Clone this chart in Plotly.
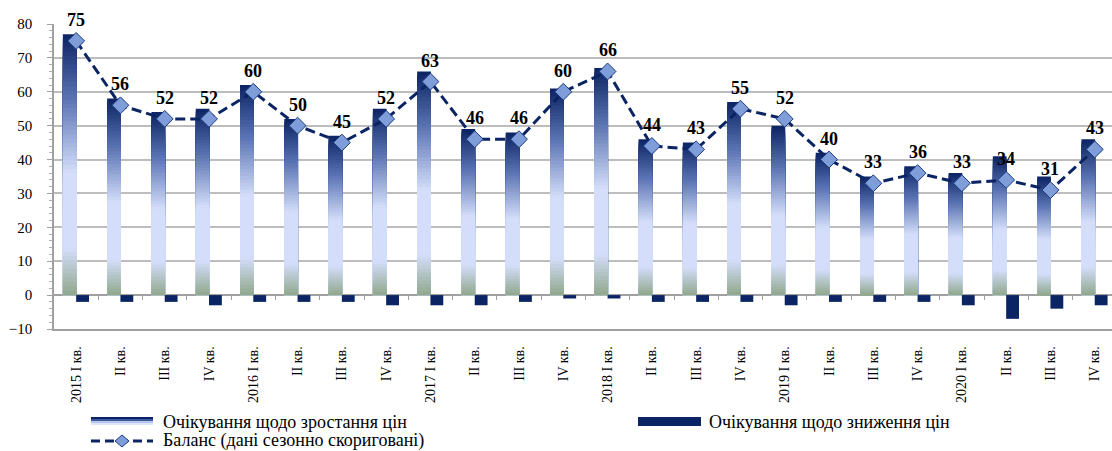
import plotly.graph_objects as go

# ---------------- data ----------------
quarters = ["2015 I кв.", "II кв.", "III кв.", "IV кв.",
            "2016 I кв.", "II кв.", "III кв.", "IV кв.",
            "2017 I кв.", "II кв.", "III кв.", "IV кв.",
            "2018 I кв.", "II кв.", "III кв.", "IV кв.",
            "2019 I кв.", "II кв.", "III кв.", "IV кв.",
            "2020 I кв.", "II кв.", "III кв.", "IV кв."]
rise = [77, 58, 54, 55, 62, 52, 47, 55, 66, 49, 48, 61,
        67, 46, 45, 57, 50, 42, 35, 38, 36, 41, 35, 46]
decline = [-2, -2, -2, -3, -2, -2, -2, -3, -3, -3, -2, -1,
           -1, -2, -2, -2, -3, -2, -2, -2, -3, -7, -4, -3]
balance = [75, 56, 52, 52, 60, 50, 45, 52, 63, 46, 46, 60,
           66, 44, 43, 55, 52, 40, 33, 36, 33, 34, 31, 43]
name_rise = "Очікування щодо зростання цін"
name_decline = "Очікування щодо зниження цін"
name_balance = "Баланс (дані сезонно скориговані)"

# ---------------- styling ----------------
W, H = 1112, 451
ML, MR, MT, MB = 54, 0, 24, 122
PW, PH = W - ML - MR, H - MT - MB
NAVY = "#0b2463"
SERIF = "Liberation Serif, Times New Roman, serif"

stops = [(0.0, (0x8f, 0xa7, 0x8c)), (0.18, (0xd4, 0xde, 0xfa)),
         (0.47, (0xd4, 0xde, 0xfa)), (0.75, (0x5b, 0x74, 0xb3)),
         (1.0, (0x0b, 0x23, 0x62))]


def grad(t):
    for (a, ca), (b, cb) in zip(stops[:-1], stops[1:]):
        if a <= t <= b:
            f = (t - a) / (b - a) if b > a else 0
            c = [round(ca[i] + (cb[i] - ca[i]) * f) for i in range(3)]
            return "rgb(%d,%d,%d)" % tuple(c)
    return "rgb(11,35,98)"


xs = list(range(len(quarters)))
fig = go.Figure()

# gradient bars: nested bars from 0, largest first, each smaller one on top
N = 60
for k in range(N):
    frac = (N - k) / N
    col = grad((N - k - 0.5) / N)
    fig.add_trace(go.Bar(
        x=xs, y=[v * frac for v in rise],
        width=0.31, offset=-0.30,
        marker=dict(color=col, line=dict(width=0)),
        showlegend=False, hoverinfo="skip", name=name_rise))

fig.add_trace(go.Bar(x=xs, y=decline, width=0.29, offset=0.0,
                     marker=dict(color=NAVY, line=dict(width=0)),
                     showlegend=False, name=name_decline))

fig.add_trace(go.Scatter(
    x=xs, y=balance, mode="lines+markers", name=name_balance,
    line=dict(color=NAVY, width=3, dash="10px,5px"),
    marker=dict(symbol="diamond", size=13, color="#7e9dd9",
                line=dict(color="#1a3a80", width=1)),
    showlegend=False))

# helper trace for the category axis tick marks at zero
fig.add_trace(go.Scatter(x=[], y=[], xaxis="x2", showlegend=False))

for x, v in zip(xs, balance):
    fig.add_annotation(x=x, y=v, text="<b>%d</b>" % v, showarrow=False,
                       yshift=21, font=dict(family=SERIF, size=18, color="black"))

# ---------- manual legend ----------
def px(xp):
    return (xp - ML) / PW


def py(yp):
    return (MT + PH - yp) / PH


band = ["#0b2463", "#3c5a9c", "#b7c6ee", "#dfe6fb"]
for i, c in enumerate(band):
    fig.add_shape(type="rect", xref="paper", yref="paper",
                  x0=px(91), x1=px(153), y0=py(417 + 2 * i), y1=py(419 + 2 * i),
                  fillcolor=c, line=dict(width=0), layer="above")
fig.add_shape(type="rect", xref="paper", yref="paper",
              x0=px(638), x1=px(701), y0=py(417), y1=py(426),
              fillcolor=NAVY, line=dict(width=0))
fig.add_shape(type="line", xref="paper", yref="paper",
              x0=px(91), x1=px(153), y0=py(441), y1=py(441),
              line=dict(color=NAVY, width=3, dash="9px,5px"))
fig.add_shape(type="path", xref="paper", yref="paper",
              path="M %f %f L %f %f L %f %f L %f %f Z" % (
                  px(115), py(441), px(122), py(435), px(129), py(441), px(122), py(447)),
              fillcolor="#7e9dd9", line=dict(color="#1a3a80", width=1))
for txt, x0, y0 in [(name_rise, 161, 422), (name_decline, 707, 422),
                    (name_balance, 161, 441)]:
    fig.add_annotation(xref="paper", yref="paper", x=px(x0), y=py(y0),
                       xanchor="left", yanchor="middle", showarrow=False, text=txt,
                       font=dict(family=SERIF, size=18, color="black"))

fig.update_layout(
    width=W, height=H, margin=dict(l=ML, r=MR, t=MT, b=MB, autoexpand=False),
    paper_bgcolor="white", plot_bgcolor="white", barmode="overlay",
    showlegend=False,
    xaxis=dict(range=[-0.5, 23.39], tickvals=xs, ticktext=quarters,
               tickangle=-90, showgrid=False, zeroline=False, automargin=False,
               showline=True, linecolor="#a0a0a0", linewidth=1.5,
               ticks="", ticklabelstandoff=10,
               tickfont=dict(family=SERIF, size=14, color="black")),
    xaxis2=dict(range=[-0.5, 23.39], overlaying="x", anchor="free",
                position=10 / 90, side="bottom", automargin=False,
                tickvals=[i + 0.5 for i in xs[:-1]], ticks="outside",
                ticklen=4, tickcolor="#a0a0a0", showticklabels=False,
                showgrid=False, zeroline=False, showline=False),
    yaxis=dict(range=[-10, 80], dtick=10, showgrid=True, automargin=False,
               gridcolor="#bdbdbd", gridwidth=1.5, zeroline=True,
               zerolinecolor="#a0a0a0", zerolinewidth=1.5,
               showline=True, linecolor="#a0a0a0", linewidth=1.5,
               ticks="outside", ticklen=5, tickcolor="#a0a0a0",
               minor=dict(dtick=2, ticks="outside", ticklen=3,
                          tickcolor="#b0b0b0", showgrid=False),
               ticklabelstandoff=12,
               tickfont=dict(family=SERIF, size=15, color="black")),
)

fig.write_html("out.html", config={"displayModeBar": False},
               post_script="document.body.style.margin='0';"
                           "document.body.style.overflow='hidden';")
